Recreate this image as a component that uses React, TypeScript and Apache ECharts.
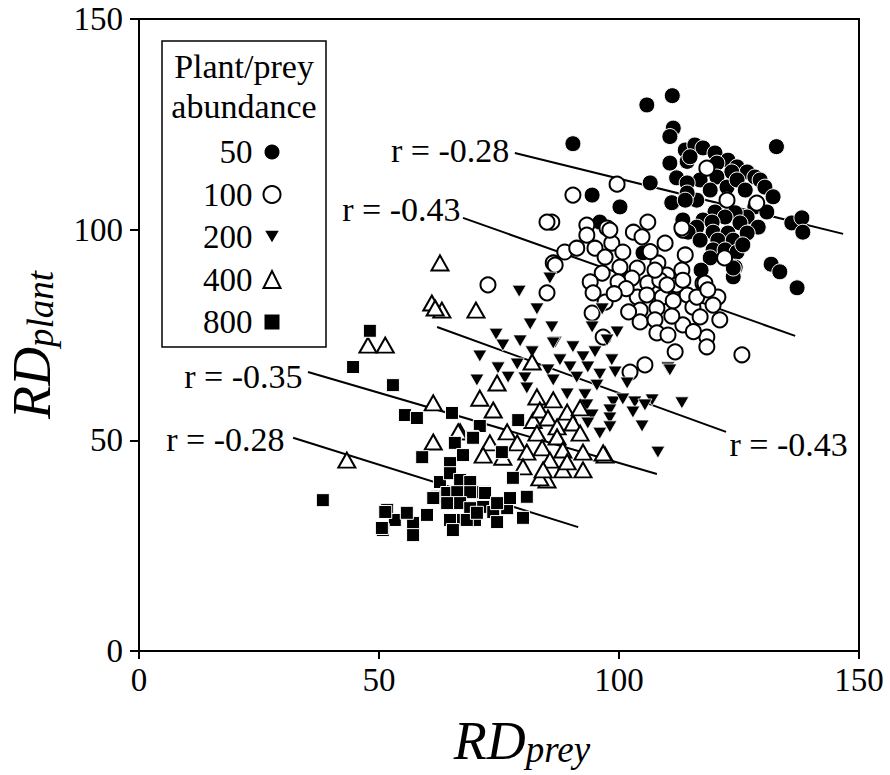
import React, { useEffect, useRef } from "react";
import * as echarts from "echarts";

const FONT = "'Liberation Serif', 'Times New Roman', 'DejaVu Serif', serif";

// ---- axes ----
const axisMin = 0;
const axisMax = 150;
const axisInterval = 50;
const xTitleMain = "RD";
const xTitleSub = "prey";
const yTitleMain = "RD";
const yTitleSub = "plant";

// ---- legend ----
const legendTitle = ["Plant/prey", "abundance"];
const groupNames = ["50", "100", "200", "400", "800"];

// ---- data: [RDprey, RDplant] ----
const pts50 = [
  [90.4, 120.4], [105.8, 129.6], [111.1, 131.8], [111.3, 124.1], [110.6, 122.1], [132.8, 119.7],
  [113.8, 118.9], [115.8, 120.1], [117.5, 119.4], [120, 118.2], [122.7, 116.5], [124.6, 114.9],
  [126.7, 113.7], [128.3, 112.5], [110.6, 115.8], [114.2, 116.2], [114.8, 117.3], [120.4, 115.8],
  [123.5, 113.7], [129.4, 111.8], [112, 112.3], [116.9, 111.8], [120.4, 112.5], [122.5, 110.1],
  [124.6, 111.8], [126.3, 109.4], [130.4, 110.1], [132.1, 107.8], [106.5, 111.1], [114.2, 111.1],
  [119, 109.4], [116.2, 107], [100.2, 105.4], [111, 106.4], [114.2, 108.7], [113.8, 107],
  [122.5, 107], [128.3, 105.4], [130.8, 104.2], [126.7, 103], [120, 104.2], [124.2, 104],
  [117.5, 102.3], [122.1, 103], [125.2, 101.6], [129, 100.6], [136, 101.6], [138.1, 102.8],
  [138.3, 99.4], [113.3, 102.3], [119.4, 101.8], [116.2, 100.6], [114.4, 99.4], [119.6, 99.4],
  [122.7, 99.2], [120.6, 97.5], [116.9, 97.5], [123.8, 97.5], [126.7, 99.2], [119.6, 95.2],
  [122.1, 95.2], [124.6, 94.7], [125.8, 96.4], [119, 93.3], [117.1, 90.4], [124.2, 91.1],
  [123.8, 88.8], [123.8, 90.9], [131.7, 91.8], [133.5, 90], [137.1, 86.2], [105, 94.5],
  [94.4, 108.2], [96, 101.8],
];

const pts100 = [
  [99.6, 110.8], [90.4, 108.2], [86, 101.8], [85, 101.8], [93.3, 101.1], [106, 101.8],
  [97.5, 100.4], [93.3, 98.7], [103, 99.4], [113.3, 99.9], [104.8, 98.3], [98.5, 96.8],
  [88.7, 94.7], [91.2, 95.6], [109.6, 96.8], [113.8, 94], [95, 95.6], [100.2, 91.1],
  [97.1, 93.5], [86.3, 92.1], [103.8, 90.9], [108.1, 92.1], [113.1, 90.4], [96.5, 89.7],
  [102.7, 88.5], [99.8, 87.6], [94, 87.6], [106, 87.3], [110, 89.2], [112.1, 86.4],
  [117.5, 87.3], [94.6, 85], [85, 85], [103.8, 84], [109, 84], [114.2, 84.5],
  [111.3, 83.1], [97.1, 82.8], [120.6, 84], [119.6, 82.1], [104.4, 80.9], [107.9, 81.4],
  [115.4, 81.6], [94.4, 80.2], [104.4, 78.1], [107.5, 78.6], [113.3, 77.4], [116.9, 79.3],
  [121, 78.6], [107.9, 75.5], [110.2, 75], [118.3, 74.5], [96.7, 74.5], [118.3, 72.2],
  [111.7, 71], [125.6, 70.3], [72.7, 86.9], [105.4, 67.9], [102.3, 66.2], [118.3, 114.6],
  [122.5, 107], [128.7, 106.3], [113.1, 100.4], [98.1, 99.9], [112, 86.9], [108.5, 88],
  [117.9, 87.3], [86.7, 91.6], [122, 93.3], [107.5, 90.4], [110, 86.9], [105.8, 84.5],
  [113.3, 88], [116.2, 84], [118.5, 85.7], [100.8, 94.7], [101.5, 86], [106.5, 94.8],
  [111, 79.5], [102, 80.5], [99, 84.8], [115.5, 75.8],
];

const pts200 = [
  [79.2, 85.4], [85.6, 88.5], [82.9, 81.2], [81.5, 77.6], [86, 76.9], [96.5, 81.2],
  [94.4, 76.9], [99.6, 75.7], [97.5, 73.8], [74.4, 75.2], [75.8, 72.6], [79.4, 73.6],
  [81.9, 71], [86.7, 73.3], [90.4, 72.2], [95, 71], [92.5, 69.8], [98.5, 69.1],
  [71, 70], [78.8, 68.1], [74.8, 67.2], [87.7, 69.1], [89.8, 67.4], [93.5, 67.4],
  [96, 65.7], [99.2, 66.2], [85.2, 66.7], [70.4, 64.3], [76.9, 65], [80.4, 64.8],
  [86.3, 64.3], [91.2, 65], [95.4, 63.1], [101.7, 63.6], [110.2, 67.2], [80.8, 62.4],
  [89.2, 61], [92.9, 60.8], [98.8, 59.1], [100.8, 59.8], [103.3, 59.1], [106.9, 59.6],
  [105.4, 58.4], [113.1, 58.9], [93.3, 58.4], [98.1, 57.2], [102.9, 56.7], [94.4, 56],
  [98.1, 55.3], [104.8, 53.4], [96, 51.7], [98.1, 53.2], [108.1, 47.2], [93.5, 54.1],
  [110.6, 66.7], [86.3, 73.1],
];

const pts400 = [
  [70.2, 80.9], [63.1, 80.9], [62.7, 92.1], [61, 82.6], [61.7, 81.4], [47.7, 72.6],
  [51.3, 72.6], [61.3, 58.9], [61.3, 49.6], [43.3, 45.3], [66.9, 52], [71, 60],
  [73.8, 57.2], [74.6, 63.6], [81.9, 68.6], [76.7, 52], [82.1, 54.7], [92.5, 43],
  [85, 40.6], [97.1, 46.5], [88.3, 43], [82.9, 60.3], [86.3, 59.6], [89.2, 56.7],
  [91.9, 57.7], [83.5, 57.2], [85.2, 55.3], [87.1, 53.2], [90.4, 54.1], [82.9, 51.7],
  [87.1, 50.8], [91.9, 51.7], [78.8, 49.4], [80.8, 47.2], [84, 48.2], [88.3, 47.7],
  [92.5, 47.2], [96.7, 47], [73.1, 49.4], [71.7, 46.5], [75.8, 46], [80, 43.7],
  [85.6, 45.3], [89.2, 44.9], [83.5, 41.1], [84.2, 43], [66.5, 52],
];

const pts800 = [
  [48.1, 76], [44.6, 67.4], [52.9, 63.1], [55.4, 56], [57.9, 55.3], [65.2, 56.5],
  [71, 53.4], [59, 46], [65.8, 49.4], [67.5, 46.5], [69.4, 50.8], [64.8, 44.6],
  [38.3, 35.8], [51.7, 33.5], [53.3, 31.1], [50.8, 28.7], [57.1, 30.4], [57.1, 27.5],
  [60, 32.3], [62.1, 36.6], [62.7, 40.1], [64.8, 42.2], [66.9, 40.6], [69, 40.1],
  [64.2, 37.5], [66.3, 37.7], [69, 37.7], [71.7, 37.7], [64.2, 35.1], [66.9, 35.1],
  [69, 33.9], [71.7, 34.2], [64.8, 31.1], [67.5, 31.1], [70, 31.1], [73.8, 33],
  [55.8, 32.8], [79, 54.8], [75.6, 47.2], [77.9, 41.1], [69.6, 50.6], [80.8, 36.6],
  [80, 31.6], [74.6, 30.6], [76.7, 33.9], [72.1, 37.5], [61.3, 36.3], [51.3, 33],
  [50.6, 29.2], [68.3, 31.1], [65.4, 28.7], [70.4, 32.8], [74.6, 35.1], [77.3, 36.3],
];

// ---- regression lines (start, end) and their r labels ----
const line50 = [[78.3, 118.2], [146.7, 99.0]];
const line100 = [[67.5, 102.8], [136.7, 74.8]];
const line200 = [[62.1, 76.9], [122.3, 52.0]];
const line400 = [[35.2, 66.2], [107.9, 42.0]];
const line800 = [[32.1, 50.6], [91.5, 29.4]];
const rLabels = ["r = -0.28", "r = -0.43", "r = -0.43", "r = -0.35", "r = -0.28"];

const DOWN_TRI = "path://M0,0L14,0L7,12Z";

const labelBase = { show: true, fontFamily: FONT, fontSize: 34, color: "#000" };

function regSeries(pts: number[][], text: string, atEnd: boolean, distance: number, offset: number[]) {
  const data = pts.map((p, i) => {
    const isLabelPt = atEnd ? i === pts.length - 1 : i === 0;
    return isLabelPt
      ? {
          value: p,
          label: { ...labelBase, position: atEnd ? "right" : "left", distance, offset, formatter: text },
        }
      : { value: p };
  });
  return {
    type: "line",
    data,
    symbol: "circle",
    symbolSize: 1,
    showSymbol: true,
    itemStyle: { color: "rgba(0,0,0,0)" },
    lineStyle: { color: "#000", width: 2 },
    silent: true,
    z: 1,
  };
}

export default function App() {
  const ref = useRef<HTMLDivElement>(null);
  useEffect(() => {
    if (!ref.current) return;
    const chart = echarts.init(ref.current, undefined, { renderer: "svg" });
    const axisCommon = {
      type: "value",
      min: axisMin,
      max: axisMax,
      interval: axisInterval,
      axisLine: { show: true, lineStyle: { color: "#000", width: 2 } },
      splitLine: { show: false },
    };
    const titleRich = {
      r: { fontFamily: FONT, fontStyle: "italic", fontSize: 54, lineHeight: 66, verticalAlign: "bottom", color: "#000" },
      s: { fontFamily: FONT, fontStyle: "italic", fontSize: 37, lineHeight: 37, padding: [27, 0, 0, 0], verticalAlign: "bottom", color: "#000" },
    };
    const option = {
      animation: false,
      backgroundColor: "#fff",
      grid: { left: 139, right: 31, top: 19, bottom: 124, show: true, borderColor: "#000", borderWidth: 2 },
      xAxis: {
        ...axisCommon,
        axisTick: { show: true, length: 8, lineStyle: { color: "#000", width: 2 } },
        axisLabel: { fontFamily: FONT, fontSize: 33, color: "#000", margin: 12 },
      },
      yAxis: {
        ...axisCommon,
        axisTick: { show: true, length: 9, lineStyle: { color: "#000", width: 2 } },
        axisLabel: { fontFamily: FONT, fontSize: 33, color: "#000", margin: 16 },
      },
      legend: {
        orient: "vertical",
        align: "right",
        left: 203,
        top: 135,
        padding: 0,
        itemGap: 8.5,
        itemWidth: 17,
        itemHeight: 17,
        selectedMode: false,
        textStyle: { fontFamily: FONT, fontSize: 33, color: "#000", lineHeight: 34, padding: [0, 6, 0, 0] },
        data: [
          { name: groupNames[0], icon: "circle" },
          { name: groupNames[1], icon: "circle" },
          { name: groupNames[2], icon: DOWN_TRI },
          { name: groupNames[3], icon: "triangle" },
          { name: groupNames[4], icon: "rect" },
        ],
        z: 10,
      },
      graphic: [
        {
          type: "rect",
          shape: { x: 162, y: 41, width: 164, height: 306 },
          style: { fill: "#fff", stroke: "#000", lineWidth: 1.5 },
          z: 5,
        },
        {
          type: "text",
          x: 244,
          y: 66,
          style: { text: legendTitle[0], font: `34px ${FONT}`, fill: "#000", align: "center", verticalAlign: "middle" },
          z: 6,
        },
        {
          type: "text",
          x: 244,
          y: 106,
          style: { text: legendTitle[1], font: `34px ${FONT}`, fill: "#000", align: "center", verticalAlign: "middle" },
          z: 6,
        },
        {
          type: "text",
          x: 522,
          y: 735,
          style: { text: `{r|${xTitleMain}}{s|${xTitleSub}}`, rich: titleRich, align: "center", verticalAlign: "middle" },
        },
        {
          type: "text",
          x: 26,
          y: 345,
          rotation: Math.PI / 2,
          style: { text: `{r|${yTitleMain}}{s|${yTitleSub}}`, rich: titleRich, align: "center", verticalAlign: "middle" },
        },
      ],
      series: [
        regSeries(line50, rLabels[0], false, 5, [0, -2]),
        regSeries(line100, rLabels[1], false, 2, [0, -8]),
        regSeries(line200, rLabels[2], true, 3, [0, 13]),
        regSeries(line400, rLabels[3], false, 5, [0, 4]),
        regSeries(line800, rLabels[4], false, 8, [0, 2]),
        {
          name: groupNames[0],
          type: "scatter",
          data: pts50,
          symbol: "circle",
          symbolSize: 16,
          itemStyle: { color: "#000", borderColor: "#fff", borderWidth: 1, opacity: 1 },
          z: 2,
        },
        {
          name: groupNames[1],
          type: "scatter",
          data: pts100,
          symbol: "circle",
          symbolSize: 15,
          itemStyle: { color: "#fff", borderColor: "#000", borderWidth: 2, opacity: 1 },
          z: 2,
        },
        {
          name: groupNames[2],
          type: "scatter",
          data: pts200,
          symbol: DOWN_TRI,
          symbolSize: [14, 12],
          itemStyle: { color: "#000", borderColor: "#fff", borderWidth: 0.8, opacity: 1 },
          z: 2,
        },
        {
          name: groupNames[3],
          type: "scatter",
          data: pts400,
          symbol: "triangle",
          symbolSize: [17, 15],
          itemStyle: { color: "#fff", borderColor: "#000", borderWidth: 2, opacity: 1 },
          z: 2,
        },
        {
          name: groupNames[4],
          type: "scatter",
          data: pts800,
          symbol: "rect",
          symbolSize: 13,
          itemStyle: { color: "#000", borderColor: "#fff", borderWidth: 1, opacity: 1 },
          z: 2,
        },
      ],
    };
    chart.setOption(option as any);
    return () => chart.dispose();
  }, []);
  return (
    <div
      ref={ref}
      style={{ position: "fixed", left: 0, top: 0, width: 890, height: 775, background: "#fff" }}
    />
  );
}
